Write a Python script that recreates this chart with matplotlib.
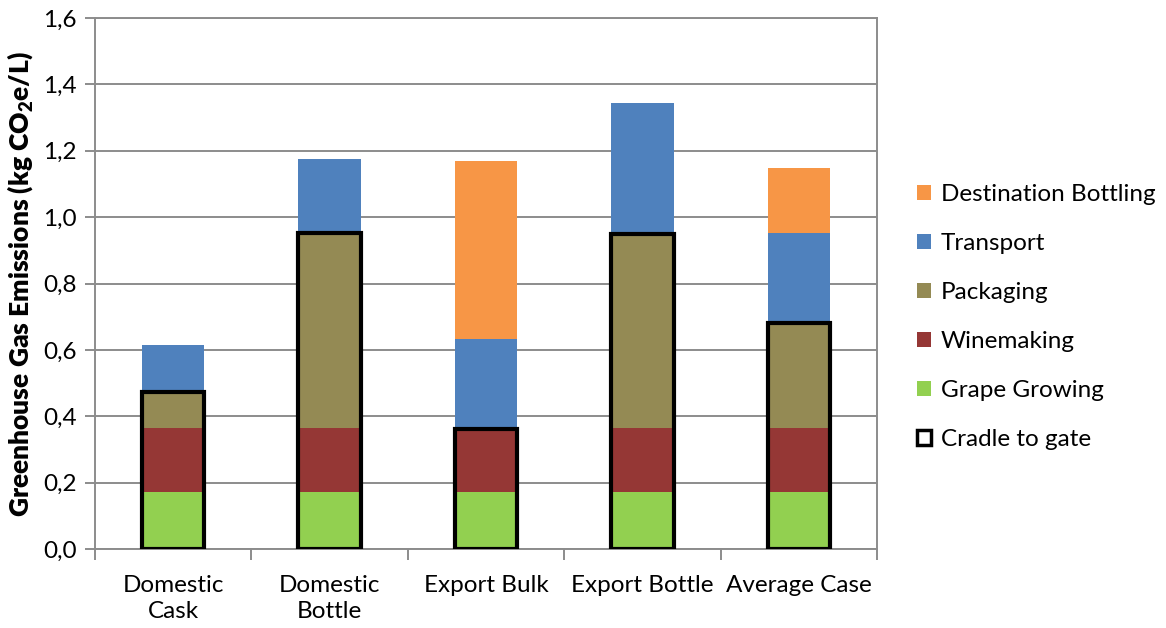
import matplotlib.pyplot as plt
from matplotlib.patches import Patch
from matplotlib.ticker import FixedLocator, FuncFormatter
import numpy as np

plt.rcParams['font.family'] = ['Lato', 'DejaVu Sans']
plt.rcParams['mathtext.default'] = 'regular'

categories = ['Domestic\nCask', 'Domestic\nBottle', 'Export Bulk', 'Export Bottle', 'Average Case']
grape = [0.173, 0.173, 0.173, 0.173, 0.173]
winemaking = [0.192, 0.192, 0.19, 0.192, 0.192]
packaging = [0.108, 0.587, 0.0, 0.585, 0.315]
transport = [0.141, 0.223, 0.27, 0.393, 0.273]
dest_bottling = [0.0, 0.0, 0.535, 0.0, 0.194]
y_ticks = [0.0, 0.2, 0.4, 0.6, 0.8, 1.0, 1.2, 1.4, 1.6]

colors = {
    'Destination Bottling': '#F79646',
    'Transport': '#4F81BD',
    'Packaging': '#948A54',
    'Winemaking': '#953735',
    'Grape Growing': '#92D050',
}

fs = 17.5
fig = plt.figure(figsize=(11.66, 6.28), dpi=100)
ax = fig.add_axes([95 / 1166, 1 - 549 / 628, (877 - 95) / 1166, (549 - 18) / 628])

x = np.arange(len(categories))
w = 0.4
series = [('Grape Growing', grape), ('Winemaking', winemaking), ('Packaging', packaging),
          ('Transport', transport), ('Destination Bottling', dest_bottling)]
bottom = np.zeros(len(categories))
for name, vals in series:
    vals = np.array(vals)
    ax.bar(x, vals, w, bottom=bottom, color=colors[name], linewidth=0, zorder=2)
    bottom += vals

# cradle to gate outline = grape + winemaking + packaging
cradle = np.array(grape) + np.array(winemaking) + np.array(packaging)
ax.bar(x, cradle, w, fill=False, edgecolor='black', linewidth=3, zorder=3)

grid_c = '#8c8c8c'
ax.set_xlim(-0.5, len(categories) - 0.5)
ax.set_ylim(0, 1.6)
ax.yaxis.set_major_locator(FixedLocator(y_ticks))
ax.yaxis.set_major_formatter(FuncFormatter(lambda v, p: f'{v:.1f}'.replace('.', ',')))
ax.grid(axis='y', color=grid_c, linewidth=1.4, zorder=0)
ax.set_axisbelow(True)
for s in ax.spines.values():
    s.set_color(grid_c)
    s.set_linewidth(1.4)

ax.set_xticks(x)
ax.set_xticklabels(categories, fontsize=fs, linespacing=1.3)
ax.set_xticks(np.arange(len(categories) + 1) - 0.5, minor=True)
ax.tick_params(axis='x', which='major', length=0, pad=19)
ax.tick_params(axis='x', which='minor', length=8, width=1.4, color=grid_c)
ax.tick_params(axis='y', length=7, width=1.4, color=grid_c, labelsize=fs, pad=6)

ax.set_ylabel('Greenhouse Gas Emissions (kg CO$_{2}$e/L)', fontsize=19,
              fontweight='heavy')
ax.yaxis.set_label_coords(-0.077, 0.5)

handles = [Patch(facecolor=colors[n], edgecolor='none') for n in
           ['Destination Bottling', 'Transport', 'Packaging', 'Winemaking', 'Grape Growing']]
handles.append(Patch(facecolor='white', edgecolor='black', linewidth=2.5))
labels = ['Destination Bottling', 'Transport', 'Packaging', 'Winemaking', 'Grape Growing',
          'Cradle to gate']
fig.legend(handles, labels, loc='center left', bbox_to_anchor=(907 / 1166, 1 - 317 / 628),
           frameon=False, fontsize=fs, labelspacing=1.15, handlelength=0.6,
           handleheight=0.6, handletextpad=0.4, borderaxespad=0)

fig.savefig('out.png', dpi=100)
